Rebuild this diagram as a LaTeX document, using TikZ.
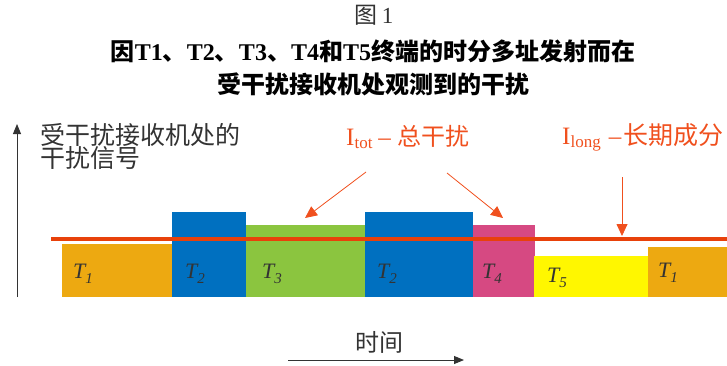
\documentclass[tikz,border=0pt]{standalone}
\usepackage{fontspec}
\setmainfont{Liberation Serif}
\newfontfamily\cjk{Noto Sans CJK SC}
\usetikzlibrary{arrows.meta}
\definecolor{cTone}{HTML}{EDA911}
\definecolor{cTtwo}{HTML}{0070C0}
\definecolor{cTthree}{HTML}{8BC53F}
\definecolor{cTfour}{HTML}{D64982}
\definecolor{cTfive}{HTML}{FFF700}
\definecolor{redline}{HTML}{E8410A}
\definecolor{annc}{HTML}{F0501E}
\definecolor{darktext}{HTML}{333333}
\newcommand{\C}[1]{{\cjk #1}}
\newcommand{\Tsub}[2]{T\raisebox{-5pt}{\fontsize{15}{15}\selectfont #2}}
\begin{document}
\begin{tikzpicture}[x=1pt,y=-1pt,
  tlab/.style={anchor=base west,inner sep=0,font=\fontsize{22}{22}\selectfont\itshape,text=darktext},
  ann/.style={anchor=base west,inner sep=0,text=annc},
  annarrow/.style={draw=annc,line width=0.8pt,-{Triangle[length=12pt,width=11pt]}},
  axisarrow/.style={draw=darktext,line width=0.9pt,-{Triangle[length=10pt,width=8pt]}},
  cjklab/.style={inner sep=0,text=darktext,font=\cjk\fontsize{25}{25}\selectfont},
  titlefont/.style={inner sep=0,font=\bfseries\fontsize{24}{24}\selectfont}]
\useasboundingbox (0,0) rectangle (727,365);

% title
\node[inner sep=0,text=darktext,font=\fontsize{23}{23}\selectfont] (fig) at (374,15) {\C{图}\hspace{4pt}1};
\node[titlefont] (title1) at (373,51) {\C{\bfseries 因}T1\C{\bfseries 、}T2\C{\bfseries 、}T3\C{\bfseries 、}T4\C{\bfseries 和}T5\C{\bfseries 终端的时分多址发射而在}};
\node[titlefont] (title2) at (373,84) {\C{\bfseries 受干扰接收机处观测到的干扰}};

% bars
\fill[cTone]   (62,244)  rectangle (172,297);
\fill[cTtwo]   (172,212) rectangle (246,297);
\fill[cTthree] (246,225) rectangle (365,297);
\fill[cTtwo]   (365,212) rectangle (473,297);
\fill[cTfour]  (473,225) rectangle (535,297);
\fill[cTfive]  (534,256) rectangle (648,297);
\fill[cTone]   (648,247) rectangle (727,297);

% long-term line
\coordinate (la) at (51,239);
\coordinate (lb) at (727,239);
\draw[redline,line width=3.2pt] (la) -- (lb);

% bar labels
\node[tlab] (t1a) at (73,278)  {\Tsub{T}{1}};
\node[tlab] (t2a) at (185,278) {\Tsub{T}{2}};
\node[tlab] (t3)  at (262,278) {\Tsub{T}{3}};
\node[tlab] (t2b) at (377,278) {\Tsub{T}{2}};
\node[tlab] (t4)  at (482,278) {\Tsub{T}{4}};
\node[tlab] (t5)  at (547,282) {\Tsub{T}{5}};
\node[tlab] (t1b) at (658,277) {\Tsub{T}{1}};

% axes
\coordinate (ya) at (17,297);
\coordinate (yb) at (17,124);
\draw[axisarrow] (ya) -- (yb);
\node[cjklab,anchor=west] (ylab1) at (40,135) {受干扰接收机处的};
\node[cjklab,anchor=west] (ylab2) at (40,158) {干扰信号};

\coordinate (ta) at (288,360);
\coordinate (tb) at (464,360);
\draw[axisarrow] (ta) -- (tb);
\node[cjklab,font=\cjk\fontsize{24}{24}\selectfont] (time) at (379,342) {时间};

% annotations
\node[ann] (itot) at (346,145) {\fontsize{25}{25}\selectfont I\raisebox{-3pt}{\fontsize{17}{17}\selectfont tot}\hspace{6pt}–\hspace{7pt}{\cjk\fontsize{24}{24}\selectfont 总干扰}};
\node[ann] (ilong) at (562,144) {\fontsize{25}{25}\selectfont I\raisebox{-3pt}{\fontsize{17}{17}\selectfont long}\hspace{8pt}–\hspace{2pt}{\cjk\fontsize{25}{25}\selectfont 长期成分}};

\coordinate (s1) at (366,172);
\coordinate (e1) at (305,218);
\coordinate (s2) at (447,173);
\coordinate (e2) at (503,218);
\coordinate (s3) at (622,177);
\coordinate (e3) at (622,236);
\draw[annarrow] (s1) -- (e1);
\draw[annarrow] (s2) -- (e2);
\draw[annarrow] (s3) -- (e3);
\end{tikzpicture}
\end{document}
